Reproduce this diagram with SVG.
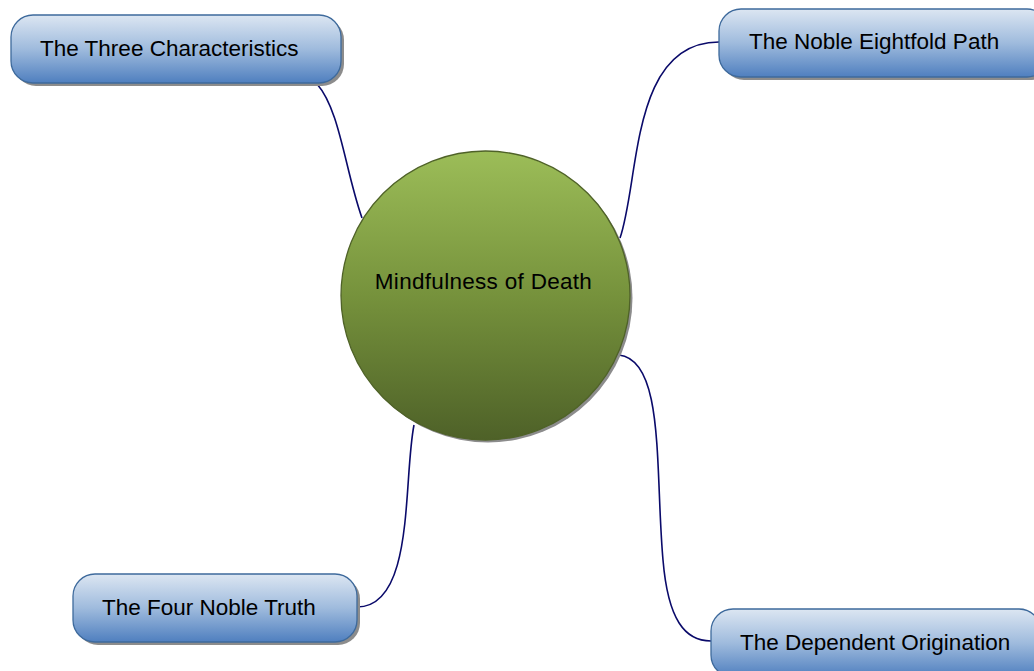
<svg xmlns="http://www.w3.org/2000/svg" width="1034" height="671" viewBox="0 0 1034 671">
<defs>
<linearGradient id="gBox" x1="0" y1="0" x2="0" y2="1">
<stop offset="0" stop-color="#dce6f2"/>
<stop offset="0.5" stop-color="#9fbbdd"/>
<stop offset="1" stop-color="#4f7fbf"/>
</linearGradient>
<linearGradient id="gCircle" x1="0" y1="0" x2="0" y2="1">
<stop offset="0" stop-color="#9cbd58"/>
<stop offset="0.5" stop-color="#76923c"/>
<stop offset="1" stop-color="#4e6128"/>
</linearGradient>
</defs>
<style>
.box{fill:url(#gBox);stroke:#3e6a9c;stroke-width:1.3}
.shadow{fill:#8c8c8c}
.lbl{font-family:"Liberation Sans",Arial,sans-serif;font-size:22.5px;fill:#000}
.conn{fill:none;stroke:#0a0a6a;stroke-width:1.6}
</style>
<g id="connectors">
<path class="conn" d="M317,84 C340,110 345,170 362,218"/>
<path class="conn" d="M620,238 C640,180 630,42 719,42"/>
<path class="conn" d="M619,355 C665,360 655,470 663,560 C668,620 685,641 711,641"/>
<path class="conn" d="M414,425 C403,480 415,607 357,607"/>
</g>
<g id="center">
<circle cx="488" cy="298" r="144.5" class="shadow"/>
<circle cx="485.5" cy="295.5" r="144.5" fill="url(#gCircle)" stroke="#4f6228" stroke-width="1.3"/>
<text class="lbl" x="483.5" y="289" text-anchor="middle" letter-spacing="0.3">Mindfulness of Death</text>
</g>
<g id="n1">
<rect x="14" y="18" width="330" height="68" rx="22" class="shadow"/>
<rect x="11" y="15" width="330" height="68" rx="22" class="box"/>
<text class="lbl" x="40" y="56">The Three Characteristics</text>
</g>
<g id="n2">
<rect x="722" y="12" width="330" height="68" rx="22" class="shadow"/>
<rect x="719" y="9" width="330" height="68" rx="22" class="box"/>
<text class="lbl" x="749" y="49">The Noble Eightfold Path</text>
</g>
<g id="n3">
<rect x="76" y="577" width="284" height="68" rx="22" class="shadow"/>
<rect x="73" y="574" width="284" height="68" rx="22" class="box"/>
<text class="lbl" x="102" y="615">The Four Noble Truth</text>
</g>
<g id="n4">
<rect x="714" y="612" width="330" height="68" rx="22" class="shadow"/>
<rect x="711" y="609" width="330" height="68" rx="22" class="box"/>
<text class="lbl" x="740" y="650">The Dependent Origination</text>
</g>
</svg>
